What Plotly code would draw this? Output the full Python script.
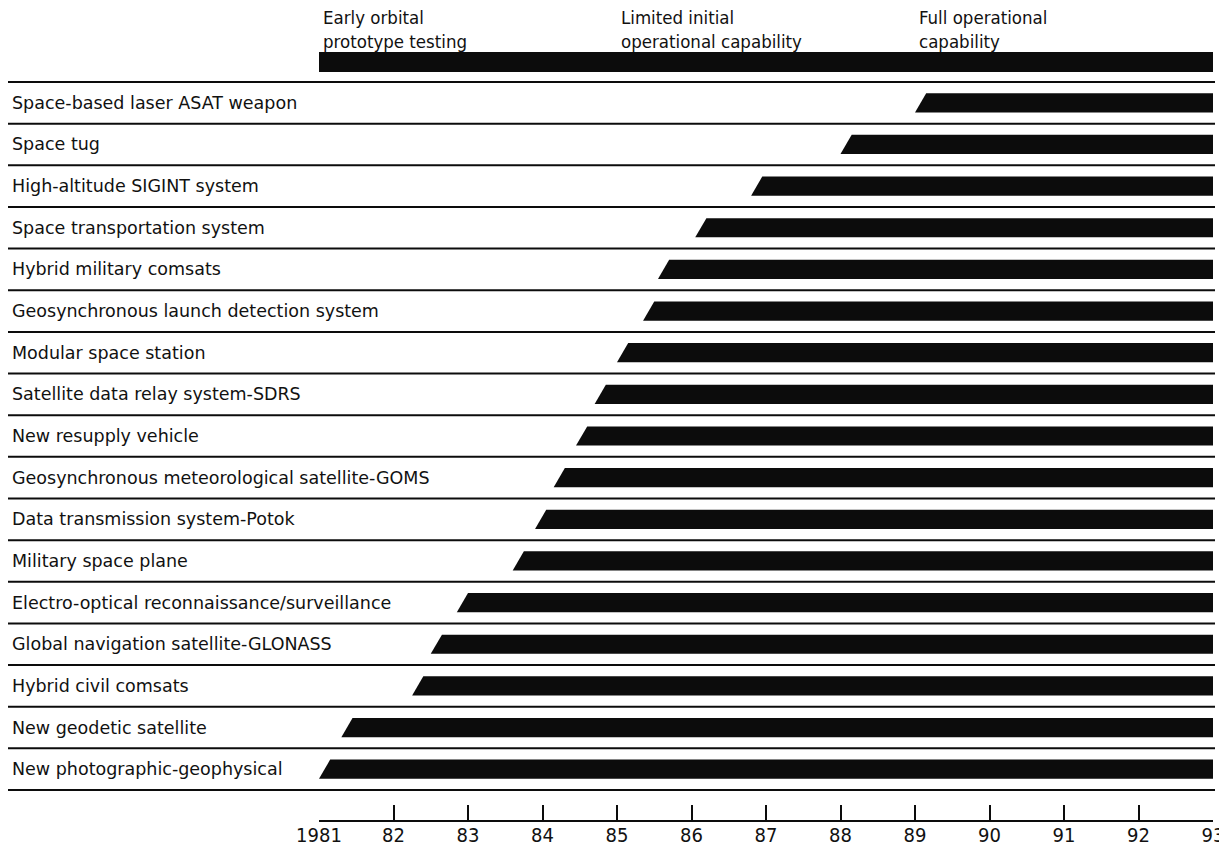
import plotly.graph_objects as go

# ---------------- data ----------------
items = [
    "Space-based laser ASAT weapon",
    "Space tug",
    "High-altitude SIGINT system",
    "Space transportation system",
    "Hybrid military comsats",
    "Geosynchronous launch detection system",
    "Modular space station",
    "Satellite data relay system-SDRS",
    "New resupply vehicle",
    "Geosynchronous meteorological satellite-GOMS",
    "Data transmission system-Potok",
    "Military space plane",
    "Electro-optical reconnaissance/surveillance",
    "Global navigation satellite-GLONASS",
    "Hybrid civil comsats",
    "New geodetic satellite",
    "New photographic-geophysical",
]
start_year = [1989.0, 1988.0, 1986.8, 1986.05, 1985.55, 1985.35, 1985.0, 1984.7,
              1984.45, 1984.15, 1983.9, 1983.6, 1982.85, 1982.5, 1982.25, 1981.3, 1981.0]
end_year = [1993, 1993, 1993, 1993, 1993, 1993, 1993, 1993,
            1993, 1993, 1993, 1993, 1993, 1993, 1993, 1993, 1993]

phase_start = [1981, 1985, 1989]
phase_end = [1985, 1989, 1993]
phase_labels = ["Early orbital<br>prototype testing",
                "Limited initial<br>operational capability",
                "Full operational<br>capability"]

tick_vals = [1981, 1982, 1983, 1984, 1985, 1986, 1987, 1988, 1989, 1990, 1991, 1992, 1993]
tick_text = ["1981", "82", "83", "84", "85", "86", "87", "88", "89", "90", "91", "92", "93"]

# ---------------- style ----------------
W, H = 1227, 846
OFF = 8              # page body margin the figure is shifted by
ROW0_PX = 102.8      # screen pixel centre of first row
ROW_PX = 41.65       # row pitch in pixels
X0_PX, X1_PX = 319, 1213   # screen x of 1981 and 1993
INK = "#0c0c0c"
BAR_HALF = 0.23
SLANT = 0.15
PHASE_Y, PHASE_HALF = -0.98, 0.24
NARROW = "Liberation Sans Narrow, DejaVu Sans Condensed, Liberation Sans"


def v(px):
    """screen pixel y -> row units"""
    return (px - ROW0_PX) / ROW_PX


def fx(px):
    """screen pixel x -> paper x"""
    return (px - OFF) / W


fig = go.Figure()

for s, e in zip(phase_start, phase_end):
    fig.add_trace(go.Scatter(
        x=[s, e, e, s, s],
        y=[PHASE_Y + PHASE_HALF, PHASE_Y + PHASE_HALF, PHASE_Y - PHASE_HALF,
           PHASE_Y - PHASE_HALF, PHASE_Y + PHASE_HALF],
        mode="lines", fill="toself", fillcolor=INK, line=dict(width=0, color=INK),
        hoverinfo="skip", showlegend=False))

for i, (name, s, e) in enumerate(zip(items, start_year, end_year)):
    fig.add_trace(go.Scatter(
        x=[s, e, e, s + SLANT, s],
        y=[i + BAR_HALF, i + BAR_HALF, i - BAR_HALF, i - BAR_HALF, i + BAR_HALF],
        mode="lines", fill="toself", fillcolor=INK, line=dict(width=0, color=INK),
        name=name, hoverinfo="name", showlegend=False))

shapes = []
for k in range(len(items) + 1):
    shapes.append(dict(type="line", xref="paper", yref="y",
                       x0=fx(8), x1=fx(1215), y0=k - 0.5, y1=k - 0.5,
                       line=dict(color=INK, width=2)))

annotations = []
for i, name in enumerate(items):
    annotations.append(dict(xref="paper", yref="y", x=fx(10), y=i, text=name,
                            xanchor="left", yanchor="middle", showarrow=False,
                            font=dict(family="DejaVu Sans", size=17.5, color="#111")))
for s, lab in zip(phase_start, phase_labels):
    annotations.append(dict(xref="x", yref="y", x=s, y=v(29), text=lab, align="left",
                            xanchor="left", yanchor="middle", showarrow=False, xshift=2,
                            font=dict(family=NARROW, size=18.5, color="#111")))

fig.update_layout(
    width=W, height=H, autosize=False,
    margin=dict(l=0, r=0, t=0, b=0, pad=0, autoexpand=False),
    paper_bgcolor="white", plot_bgcolor="white",
    shapes=shapes, annotations=annotations,
    xaxis=dict(domain=[fx(X0_PX), fx(X1_PX)], range=[1981, 1993],
               anchor="free", position=1 - (821 - OFF) / H, automargin=False,
               tickvals=tick_vals, ticktext=tick_text,
               ticks="inside", ticklen=15, tickwidth=1.6, tickcolor=INK,
               showline=True, linecolor=INK, linewidth=1.6,
               showgrid=False, zeroline=False, ticklabelstandoff=-4,
               tickfont=dict(family=NARROW, size=20, color="#111")),
    yaxis=dict(domain=[0, 1], range=[v(H + OFF), v(OFF)], visible=False,
               automargin=False, showgrid=False, zeroline=False),
)

fig.write_html("out.html")
